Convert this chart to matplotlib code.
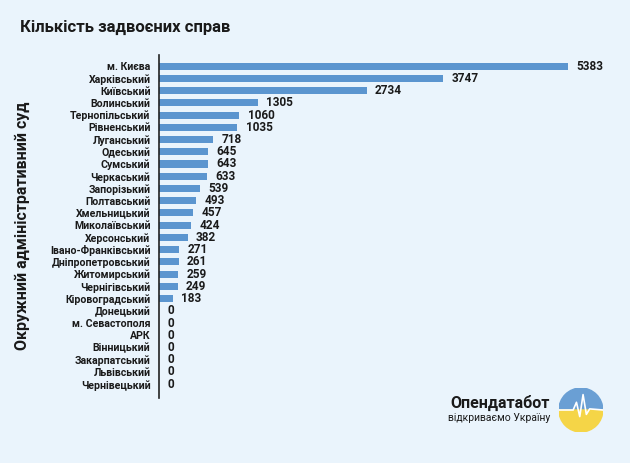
import matplotlib
matplotlib.use("Agg")
import matplotlib.pyplot as plt
from matplotlib.patches import Wedge

courts = [
    "м. Києва", "Харківський", "Київський", "Волинський", "Тернопільський",
    "Рівненський", "Луганський", "Одеський", "Сумський", "Черкаський",
    "Запорізький", "Полтавський", "Хмельницький", "Миколаївський", "Херсонський",
    "Івано-Франківський", "Дніпропетровський", "Житомирський", "Чернігівський",
    "Кіровоградський", "Донецький", "м. Севастополя", "АРК", "Вінницький",
    "Закарпатський", "Львівський", "Чернівецький",
]
cases = [
    5383, 3747, 2734, 1305, 1060, 1035, 718, 645, 643, 633, 539, 493, 457, 424,
    382, 271, 261, 259, 249, 183, 0, 0, 0, 0, 0, 0, 0,
]

BG = "#eaf4fc"
BAR = "#5b95cf"
TXT = "#1a1a1a"

plt.rcParams["font.family"] = ["Roboto", "DejaVu Sans"]

fig = plt.figure(figsize=(6.3, 4.63), dpi=100, facecolor=BG)
ax = fig.add_axes([0.252, 0.140, 0.716, 0.741], facecolor=BG)

y = list(range(len(courts)))
ax.barh(y, cases, height=0.58, color=BAR)
for yi, v in zip(y, cases):
    ax.annotate(f"{v}", (v, yi), xytext=(6, 0), textcoords="offset points",
                va="center", ha="left", fontsize=8.5, fontweight="bold", color=TXT)

ax.set_xlim(0, 5936)
ax.set_ylim(len(courts) - 1 + 1.14, -0.9)
ax.set_yticks(y)
ax.set_yticklabels(courts, fontsize=7.6, fontweight="bold", color=TXT)
ax.tick_params(axis="y", length=0, pad=6)
ax.set_xticks([])
for s in ["top", "right", "bottom"]:
    ax.spines[s].set_visible(False)
ax.spines["left"].set_color("#222222")
ax.spines["left"].set_linewidth(1.2)

fig.text(0.032, 0.94, "Кількість задвоєних справ", fontsize=12,
         fontweight="bold", color=TXT, va="center", ha="left")
fig.text(0.035, 0.512, "Окружний адміністративний суд", fontsize=11.5,
         fontweight="bold", color=TXT, rotation=90, va="center", ha="center")

# logo
fig.text(0.873, 0.13, "Опендатабот", fontsize=11.5, fontweight="bold",
         color=TXT, ha="right", va="center")
fig.text(0.873, 0.097, "відкриваємо Україну", fontsize=7.5,
         color=TXT, ha="right", va="center")
lax = fig.add_axes([0.887, 0.067, 0.07, 0.095], facecolor="none")
lax.set_xlim(-1, 1)
lax.set_ylim(-1, 1)
lax.set_aspect("equal")
lax.axis("off")
lax.add_patch(Wedge((0, 0), 1, 0, 180, color="#6a9fd4"))
lax.add_patch(Wedge((0, 0), 1, 180, 360, color="#f5d547"))
lax.plot([-1, -0.35, -0.2, -0.05, 0.1, 0.25, 0.4, 1],
         [0.0, 0.0, 0.35, -0.3, 0.7, -0.2, 0.05, 0.0],
         color="white", lw=1.2)

fig.savefig("out.png", dpi=100, facecolor=BG)
